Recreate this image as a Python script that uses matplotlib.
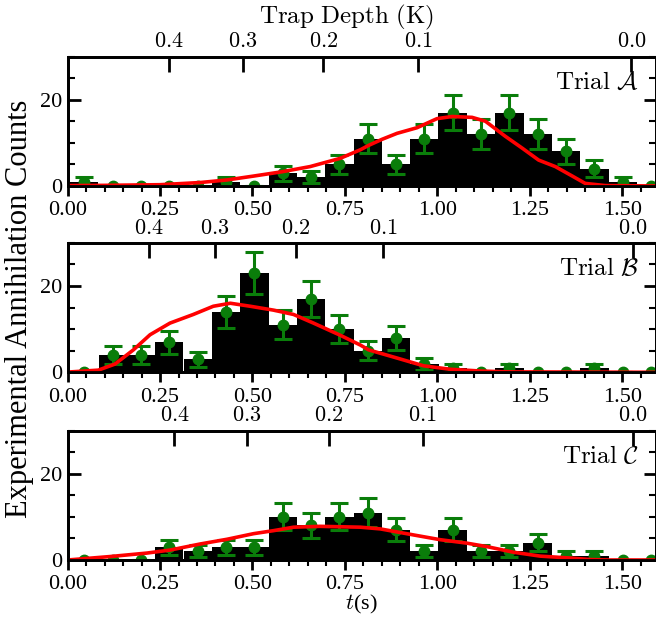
import numpy as np
import matplotlib
matplotlib.use("Agg")
import matplotlib.pyplot as plt
from matplotlib.ticker import MultipleLocator, FixedLocator, FormatStrFormatter

plt.rcParams['font.family'] = ['Liberation Serif', 'DejaVu Serif']
plt.rcParams['mathtext.fontset'] = 'cm'

# histogram bin centres (s) and bin width
bin_t = [0.045, 0.122, 0.198, 0.275, 0.352, 0.428, 0.505, 0.582, 0.658, 0.735, 0.812,
         0.888, 0.965, 1.041, 1.118, 1.195, 1.271, 1.348, 1.425, 1.501, 1.578]
bin_w = 0.0767

counts_a = [1, 0, 0, 0, 0, 1, 0, 3, 2, 5, 11, 5, 11, 17, 12, 17, 12, 8, 4, 1, 0]
counts_b = [0, 4, 4, 7, 3, 14, 23, 11, 17, 10, 5, 8, 2, 1, 0, 1, 0, 0, 1, 0, 0]
counts_c = [0, 0, 0, 3, 2, 3, 3, 10, 8, 10, 11, 7, 2, 7, 2, 2, 4, 1, 1, 0, 0]

# simulated curves
sim_t_a = [0.0, 0.1, 0.25, 0.358, 0.431, 0.503, 0.58, 0.656, 0.737, 0.792, 0.814, 0.85, 0.891,
           0.945, 0.999, 1.04, 1.094, 1.13, 1.184, 1.229, 1.274, 1.319, 1.365, 1.4, 1.454, 1.6]
sim_y_a = [0.1, 0.15, 0.3, 0.8, 1.4, 2.3, 3.3, 4.5, 6.4, 8.4, 9.4, 10.8, 12.2,
           13.5, 15.6, 16.1, 15.9, 15.0, 11.5, 8.8, 6.0, 4.5, 2.3, 0.6, 0.1, 0.0]

sim_t_b = [0.0, 0.083, 0.128, 0.178, 0.223, 0.277, 0.34, 0.394, 0.44, 0.494, 0.557, 0.611,
           0.665, 0.719, 0.737, 0.792, 0.814, 0.891, 0.963, 1.035, 1.116, 1.189, 1.6]
sim_y_b = [0.05, 0.5, 1.9, 5.2, 8.7, 11.4, 13.4, 15.3, 16.0, 15.3, 14.4, 13.4,
           11.4, 9.3, 8.6, 6.3, 5.2, 3.3, 1.5, 0.7, 0.3, 0.1, 0.0]

sim_t_c = [0.0, 0.115, 0.214, 0.277, 0.358, 0.431, 0.503, 0.557, 0.611, 0.683, 0.737, 0.792,
           0.846, 0.936, 1.008, 1.08, 1.134, 1.206, 1.278, 1.369, 1.414, 1.46, 1.6]
sim_y_c = [0.0, 0.8, 1.6, 2.3, 3.7, 4.8, 6.1, 6.8, 7.6, 7.8, 7.7, 7.6,
           7.2, 5.8, 4.7, 3.9, 3.1, 1.8, 0.9, 0.4, 0.1, 0.0, 0.0]

# trap depth axis (top): tick positions in t and labels
depth_labels = ['0.4', '0.3', '0.2', '0.1', '0.0']
depth_pos_a = [0.275, 0.474, 0.692, 0.949, 1.525]
depth_pos_b = [0.219, 0.399, 0.618, 0.854, 1.529]
depth_pos_c = [0.289, 0.485, 0.706, 0.960, 1.529]

trial_names = [r'$\mathrm{Trial}\ \mathcal{A}$', r'$\mathrm{Trial}\ \mathcal{B}$',
               r'$\mathrm{Trial}\ \mathcal{C}$']

W, H = 656, 617
fig = plt.figure(figsize=(W / 100, H / 100), dpi=100)

panels = [
    (186.0, counts_a, sim_t_a, sim_y_a, depth_pos_a),
    (372.3, counts_b, sim_t_b, sim_y_b, depth_pos_b),
    (560.0, counts_c, sim_t_c, sim_y_c, depth_pos_c),
]

left, right = 67.6, 655.5
green = '#0a7d0a'
for k, (ybot, counts, st, sy, dpos) in enumerate(panels):
    ax = fig.add_axes([left / W, (H - ybot) / H, (right - left) / W, 129.5 / H])
    c = np.array(counts, dtype=float)
    ax.bar(bin_t, c, width=bin_w, color='black', zorder=1)
    ax.errorbar(bin_t, c, yerr=np.sqrt(c), fmt='o', color=green, ms=7.5,
                elinewidth=2.2, capsize=6.5, capthick=2.2, zorder=3)
    ax.plot(st, sy, color='red', lw=2.6, zorder=4, solid_capstyle='round')
    ax.set_xlim(0, 1.59)
    ax.set_ylim(0, 30)
    ax.xaxis.set_major_locator(MultipleLocator(0.25))
    ax.xaxis.set_minor_locator(MultipleLocator(0.05))
    ax.yaxis.set_major_locator(FixedLocator([0, 20]))
    ax.yaxis.set_minor_locator(MultipleLocator(5))
    ax.xaxis.set_major_formatter(FormatStrFormatter('%.2f'))
    ax.tick_params(axis='x', which='major', direction='out', length=7, width=2,
                   labelsize=16, pad=4, top=False)
    ax.tick_params(axis='x', which='minor', direction='out', length=4, width=1.5, top=False)
    ax.tick_params(axis='y', which='major', direction='in', length=9, width=2,
                   labelsize=16, right=True, pad=4)
    ax.tick_params(axis='y', which='minor', direction='in', length=5, width=1.5, right=True)
    for s in ax.spines.values():
        s.set_linewidth(2)

    top = ax.twiny()
    top.set_xlim(ax.get_xlim())
    top.set_xticks(dpos)
    top.set_xticklabels(['$' + d + '$' for d in depth_labels])
    top.tick_params(axis='x', direction='in', length=11, width=2, labelsize=16, pad=3)
    top.tick_params(axis='x', which='minor', top=False)
    for s in top.spines.values():
        s.set_linewidth(2)

    ax.text(0.972, 0.80, trial_names[k], transform=ax.transAxes,
            ha='right', va='center', fontsize=18)

    if k == 2:
        ax.set_xlabel(r'$t$(s)', fontsize=16, labelpad=-1)

fig.text(346 / W, 1 - 17 / H, r'$\mathrm{Trap\ Depth\ (K)}$', ha='center', va='center',
         fontsize=18)
fig.text(20 / W, 0.5, 'Experimental Annihilation Counts', rotation=90,
         ha='center', va='center', fontsize=22)

fig.savefig('out.png', dpi=100)
